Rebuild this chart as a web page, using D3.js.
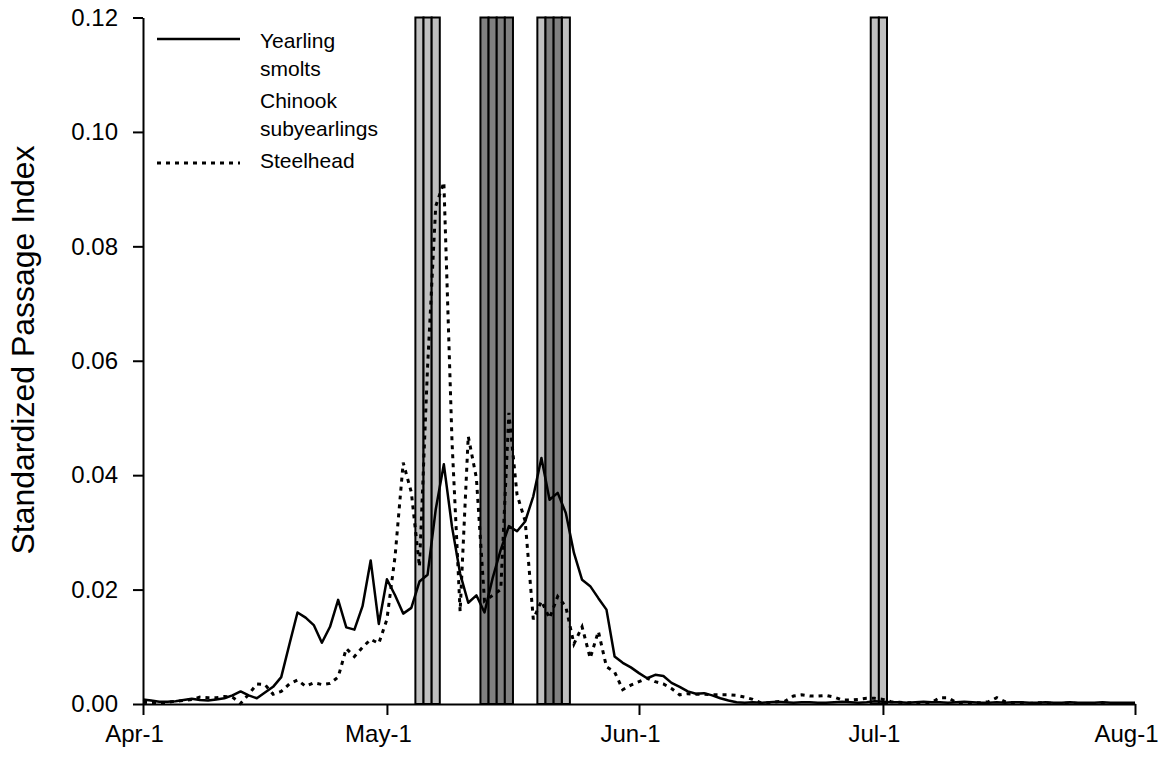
<!DOCTYPE html>
<html>
<head>
<meta charset="utf-8">
<script src="https://cdn.jsdelivr.net/npm/d3@7"></script>
<style>
body { margin: 0; background: #fff; }
text { font-family: "Liberation Sans", Arial, sans-serif; fill: #000; }
</style>
</head>
<body>
<svg id="chart" width="1167" height="763"></svg>
<script>
// daily series start on this date, one value per day
var startDate = "2003-04-01";
var endDate = "2003-08-01";

var monthTicks = ["2003-04-01", "2003-05-01", "2003-06-01", "2003-07-01", "2003-08-01"];
var monthLabels = ["Apr-1", "May-1", "Jun-1", "Jul-1", "Aug-1"];
var yTicks = [0, 0.02, 0.04, 0.06, 0.08, 0.10, 0.12];

// Yearling Chinook smolts (solid)
var yearling = [
    0.0008, 0.0006, 0.0004, 0.0004, 0.0005, 0.0007, 0.0009, 0.0007, 0.0006, 0.0008,
    0.0010, 0.0015, 0.0022, 0.0015, 0.0010, 0.0020, 0.0030, 0.0047, 0.0104, 0.0160,
    0.0151, 0.0138, 0.0107, 0.0135, 0.0182, 0.0134, 0.0130, 0.0171, 0.0251, 0.0140,
    0.0218, 0.0190, 0.0158, 0.0168, 0.0214, 0.0226, 0.0340, 0.0419, 0.0310, 0.0228,
    0.0177, 0.0190, 0.0160, 0.0220, 0.0270, 0.0311, 0.0302, 0.0319, 0.0363, 0.0430,
    0.0357, 0.0369, 0.0334, 0.0264, 0.0217, 0.0206, 0.0185, 0.0165, 0.0083, 0.0072,
    0.0064, 0.0054, 0.0045, 0.0051, 0.0049, 0.0037, 0.0030, 0.0022, 0.0018, 0.0019,
    0.0015, 0.0010, 0.0006, 0.0003, 0.0002, 0.0003, 0.0002, 0.0003, 0.0004, 0.0003,
    0.0002, 0.0003, 0.0003, 0.0002, 0.0002, 0.0003, 0.0004, 0.0003, 0.0002, 0.0003,
    0.0005, 0.0004, 0.0003, 0.0003, 0.0002, 0.0003, 0.0004, 0.0003, 0.0003, 0.0002,
    0.0003, 0.0004, 0.0003, 0.0002, 0.0002, 0.0003, 0.0002, 0.0003, 0.0003, 0.0002,
    0.0002, 0.0003, 0.0002, 0.0002, 0.0003, 0.0002, 0.0002, 0.0002, 0.0003, 0.0002,
    0.0002, 0.0002, 0.0002
];

// Steelhead (dotted)
var steelhead = [
    0.0003, 0.0002, 0.0002, 0.0003, 0.0005, 0.0006, 0.0008, 0.0012, 0.0011, 0.0011,
    0.0013, 0.0012, 0.0001, 0.0017, 0.0035, 0.0034, 0.0017, 0.0022, 0.0035, 0.0042,
    0.0031, 0.0037, 0.0034, 0.0036, 0.0047, 0.0097, 0.0083, 0.0099, 0.0113, 0.0106,
    0.0148, 0.0258, 0.0422, 0.0370, 0.0240, 0.0590, 0.0870, 0.0912, 0.0460, 0.0162,
    0.0468, 0.0395, 0.0180, 0.0190, 0.0200, 0.0509, 0.0366, 0.0320, 0.0148, 0.0180,
    0.0150, 0.0188, 0.0170, 0.0105, 0.0135, 0.0080, 0.0127, 0.0065, 0.0056, 0.0025,
    0.0033, 0.0039, 0.0045, 0.0039, 0.0035, 0.0027, 0.0016, 0.0018, 0.0017, 0.0017,
    0.0016, 0.0016, 0.0016, 0.0015, 0.0012, 0.0008, 0.0002, 0.0002, 0.0004, 0.0005,
    0.0014, 0.0016, 0.0014, 0.0014, 0.0015, 0.0012, 0.0007, 0.0007, 0.0008, 0.0010,
    0.0010, 0.0008, 0.0004, 0.0003, 0.0002, 0.0002, 0.0002, 0.0003, 0.0011, 0.0011,
    0.0003, 0.0002, 0.0002, 0.0002, 0.0004, 0.0011, 0.0004, 0.0002, 0.0002, 0.0001,
    0.0002, 0.0002, 0.0001, 0.0001, 0.0002, 0.0001, 0.0001, 0.0001, 0.0001, 0.0001,
    0.0001, 0.0001, 0.0001
];

// shaded days (light and dark grey bands)
var lightDays = ["2003-05-05", "2003-05-06", "2003-05-07", "2003-05-20", "2003-05-23", "2003-06-30", "2003-07-01"];
var darkDays = ["2003-05-13", "2003-05-14", "2003-05-15", "2003-05-16", "2003-05-21", "2003-05-22"];

var legendLines = ["Yearling", "smolts", "Chinook", "subyearlings", "Steelhead"];

var parseDate = d3.timeParse("%Y-%m-%d");

function toSeries(values) {
    var t0 = parseDate(startDate);
    return values.map(function(v, i) {
        return { date: d3.timeDay.offset(t0, i), value: v };
    });
}

var svg = d3.select("#chart");
var margin = { top: 17.5, right: 32, bottom: 59, left: 143 };
var width = 1167 - margin.left - margin.right;
var height = 763 - margin.top - margin.bottom;

svg.append("rect").attr("width", 1167).attr("height", 763).attr("fill", "#fff");

var g = svg.append("g")
    .attr("transform", "translate(" + margin.left + "," + margin.top + ")");

var x = d3.scaleTime()
    .domain([parseDate(startDate), parseDate(endDate)])
    .range([0, width]);

var y = d3.scaleLinear()
    .domain([0, 0.12])
    .range([height, 0]);

// shaded bands, one rect per day centred on the date
var bandDays = lightDays.map(function(d) { return { date: parseDate(d), fill: "#c0c0c0" }; })
    .concat(darkDays.map(function(d) { return { date: parseDate(d), fill: "#808080" }; }));

g.selectAll(".band")
    .data(bandDays)
    .enter().append("rect")
    .attr("class", "band")
    .attr("x", function(d) {
        return (x(d.date) + x(d3.timeDay.offset(d.date, -1))) / 2;
    })
    .attr("width", function(d) {
        return (x(d3.timeDay.offset(d.date, 1)) - x(d3.timeDay.offset(d.date, -1))) / 2;
    })
    .attr("y", y(0.12))
    .attr("height", y(0) - y(0.12))
    .attr("fill", function(d) { return d.fill; })
    .attr("stroke", "#000")
    .attr("stroke-width", 2);

var line = d3.line()
    .x(function(d) { return x(d.date); })
    .y(function(d) { return y(d.value); });

g.append("path")
    .datum(toSeries(steelhead))
    .attr("fill", "none")
    .attr("stroke", "#000")
    .attr("stroke-width", 3)
    .attr("stroke-dasharray", "4,5")
    .attr("d", line);

g.append("path")
    .datum(toSeries(yearling))
    .attr("fill", "none")
    .attr("stroke", "#000")
    .attr("stroke-width", 2.5)
    .attr("stroke-linejoin", "round")
    .attr("d", line);

// axes
var xAxis = g.append("g")
    .attr("transform", "translate(0," + height + ")")
    .call(d3.axisBottom(x)
        .tickValues(monthTicks.map(parseDate))
        .tickFormat(function(d, i) { return monthLabels[i]; })
        .tickSize(11)
        .tickSizeOuter(0)
        .tickPadding(10));

var yAxis = g.append("g")
    .call(d3.axisLeft(y)
        .tickValues(yTicks)
        .tickFormat(d3.format(".2f"))
        .tickSize(10)
        .tickSizeOuter(0)
        .tickPadding(15));

[xAxis, yAxis].forEach(function(a) {
    a.select(".domain").attr("stroke", "#000").attr("stroke-width", 2);
    a.selectAll(".tick line").attr("stroke", "#000").attr("stroke-width", 2);
    a.selectAll(".tick text")
        .attr("font-family", "Liberation Sans, Arial, sans-serif")
        .attr("font-size", 24)
        .attr("fill", "#000");
});
xAxis.selectAll(".tick text").attr("dx", -9);

svg.append("text")
    .attr("transform", "rotate(-90)")
    .attr("x", -350)
    .attr("y", 34)
    .attr("text-anchor", "middle")
    .attr("font-size", 32)
    .text("Standardized Passage Index");

// legend
var legend = svg.append("g");
legend.append("line")
    .attr("x1", 157).attr("x2", 240)
    .attr("y1", 39).attr("y2", 39)
    .attr("stroke", "#000").attr("stroke-width", 2.5);
legend.append("line")
    .attr("x1", 157).attr("x2", 240)
    .attr("y1", 163).attr("y2", 163)
    .attr("stroke", "#000").attr("stroke-width", 3)
    .attr("stroke-dasharray", "4,5");

var legendBaselines = [48, 76, 108, 136, 168];
legend.selectAll(".legend-text")
    .data(legendLines)
    .enter().append("text")
    .attr("class", "legend-text")
    .attr("x", 260)
    .attr("y", function(d, i) { return legendBaselines[i]; })
    .attr("font-size", 21)
    .text(function(d) { return d; });
</script>
</body>
</html>
